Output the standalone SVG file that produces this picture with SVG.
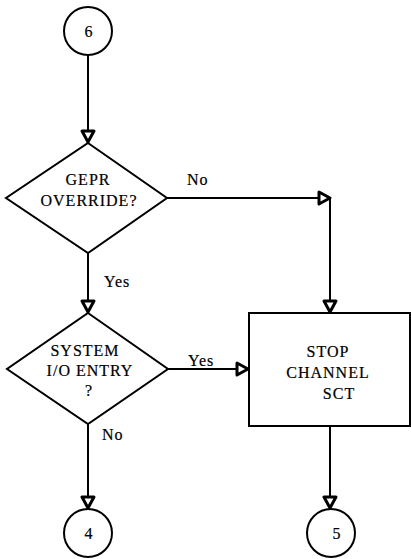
<svg xmlns="http://www.w3.org/2000/svg" width="411" height="559" viewBox="0 0 411 559">
<style>
.s{fill:none;stroke:#000;stroke-width:2}
.n{fill:#fff;stroke:#000;stroke-width:2}
.t{font-family:"Liberation Serif","Times New Roman",serif;font-size:16px;letter-spacing:1px;fill:#000;stroke:#000;stroke-width:0.2;text-anchor:middle}
.l{font-family:"Liberation Serif","Times New Roman",serif;font-size:16px;letter-spacing:1px;fill:#000;stroke:#000;stroke-width:0.2}
</style>
<defs>
<marker id="a" markerUnits="userSpaceOnUse" markerWidth="18" markerHeight="18" viewBox="-3 -3 18 18" refX="11" refY="6" orient="auto">
<path d="M0,0 L11,6 L0,12 Z" fill="#fff" stroke="#000" stroke-width="3" stroke-linejoin="round"/>
</marker>
</defs>
<rect width="411" height="559" fill="#fff"/>
<g id="connectors">
<path class="s" d="M88,55 V142" marker-end="url(#a)"/>
<path class="s" d="M167,198 H330" marker-end="url(#a)"/>
<path class="s" d="M330,198 V312" marker-end="url(#a)"/>
<path class="s" d="M88,253 V312" marker-end="url(#a)"/>
<path class="s" d="M168,369 H248" marker-end="url(#a)"/>
<path class="s" d="M88,424 V508" marker-end="url(#a)"/>
<path class="s" d="M330,426 V508" marker-end="url(#a)"/>
<text class="l" x="187" y="185">No</text>
<text class="l" x="104" y="287">Yes</text>
<text class="l" x="188" y="366">Yes</text>
<text class="l" x="102" y="440">No</text>
</g>
<g id="c6">
<circle class="n" cx="88" cy="31" r="24"/>
<text class="t" x="89" y="37">6</text>
</g>
<g id="d1">
<polygon class="n" points="88,143 167,198 88,253 6,198"/>
<text class="t" x="88" y="185">GEPR</text>
<text class="t" x="89" y="206">OVERRIDE?</text>
</g>
<g id="d2">
<polygon class="n" points="88,313 168,369 88,424 7,369"/>
<text class="t" x="85" y="356">SYSTEM</text>
<text class="t" x="90" y="376">I/O ENTRY</text>
<text class="t" x="89" y="396">?</text>
</g>
<g id="box">
<rect class="n" x="249" y="313" width="161" height="113"/>
<text class="t" x="328" y="357">STOP</text>
<text class="t" x="328" y="378">CHANNEL</text>
<text class="t" x="339" y="399">SCT</text>
</g>
<g id="c4">
<circle class="n" cx="88" cy="533" r="24"/>
<text class="t" x="89" y="539">4</text>
</g>
<g id="c5">
<circle class="n" cx="331" cy="533" r="24"/>
<text class="t" x="337" y="539">5</text>
</g>
</svg>
